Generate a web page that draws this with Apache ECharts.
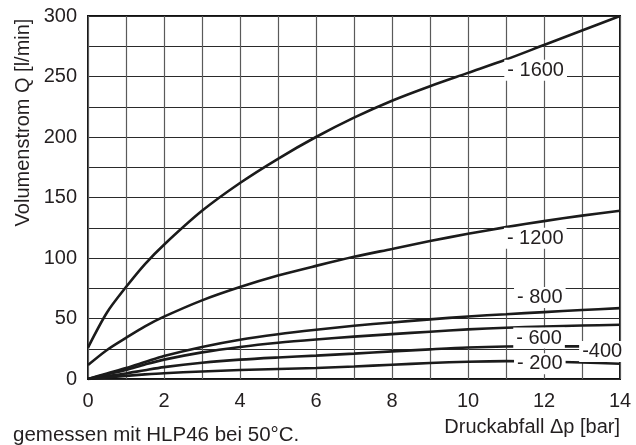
<!DOCTYPE html>
<html>
<head>
<meta charset="utf-8">
<script src="https://cdn.jsdelivr.net/npm/echarts@6/dist/echarts.min.js"></script>
<style>html,body{margin:0;padding:0;background:#fff}#c{width:636px;height:445px}</style>
</head>
<body>
<div id="c"></div>
<script>
// Druckabfall Δp [bar]
var xValues = [0, 0.5, 1, 1.5, 2, 3, 4, 5, 6, 7, 8, 9, 10, 11, 12, 13, 14];
// Volumenstrom Q [l/min] per curve
var q1600 = [26, 55, 76, 95, 111, 139, 162, 182, 200, 216, 230, 242, 253, 264, 276, 288, 300];
var q1200 = [11.5, 24, 34, 43.5, 51.5, 65, 76, 85.5, 93.5, 101, 107.5, 114, 120, 125.5, 130.5, 135, 139];
var q800  = [0, 4.6, 9, 14, 19, 26.5, 32.5, 37, 40.7, 44, 46.7, 49.3, 51.7, 53.5, 55.3, 57, 58.6];
var q600  = [0, 3.8, 7.5, 12, 16, 22, 26.5, 30, 32.7, 35, 37.1, 39.1, 41, 42.3, 43.4, 44.2, 44.8];
var q400  = [0, 2.3, 4.6, 7.3, 9.8, 13.4, 16, 17.8, 19.3, 21, 22.8, 24.5, 26, 26.8, 27, 27, 26.5];
var q200  = [0, 1.3, 2.6, 3.8, 4.8, 6.2, 7.4, 8.3, 9.1, 10.3, 11.8, 13.2, 14.3, 14.8, 14.5, 13.6, 12.6];
// curve labels
var labelText = ['- 1600', '- 1200', '- 800', '- 600', '-400', '- 200'];
var labelX = [11.78, 11.77, 11.89, 11.87, 13.53, 11.89];
var labelY = [255.2, 116.3, 67.3, 33.8, 22.8, 12.6];
var xTicks = [0, 2, 4, 6, 8, 10, 12, 14];
var yTicks = [0, 50, 100, 150, 200, 250, 300];

var FONT = '"Liberation Sans", Arial, Helvetica, sans-serif';
var TXT = '#231f20';

function pairs(ys) { return xValues.map(function (x, i) { return [x, ys[i]]; }); }
function curve(name, ys) {
  return {
    name: name, type: 'line', data: pairs(ys), smooth: 0.3, symbol: 'none', z: 2,
    lineStyle: { color: '#1b1b1b', width: 2.6 }, silent: true
  };
}

var chart = echarts.init(document.getElementById('c'), null, { renderer: 'canvas' });
chart.setOption({
  animation: false,
  backgroundColor: '#fff',
  grid: { left: 88, right: 16, top: 16, bottom: 66, show: true, borderColor: '#111', borderWidth: 2, backgroundColor: 'transparent' },
  xAxis: {
    type: 'value', min: 0, max: 14, interval: 1,
    axisLine: { show: false }, axisTick: { show: false },
    axisLabel: {
      margin: 12, color: TXT, fontFamily: FONT, fontSize: 20,
      formatter: function (v) { return xTicks.indexOf(v) >= 0 ? String(v) : ''; }
    },
    splitLine: { show: true, lineStyle: { color: '#5a5a5a', width: 1.2 } }
  },
  yAxis: {
    type: 'value', min: 0, max: 300, interval: 25,
    axisLine: { show: false }, axisTick: { show: false },
    axisLabel: {
      margin: 11, color: TXT, fontFamily: FONT, fontSize: 20,
      formatter: function (v) { return yTicks.indexOf(v) >= 0 ? String(v) : ''; }
    },
    splitLine: { show: true, lineStyle: { color: '#2a2a2a', width: 1 } }
  },
  series: [
    curve('1600', q1600), curve('1200', q1200), curve('800', q800),
    curve('600', q600), curve('400', q400), curve('200', q200),
    {
      type: 'scatter', z: 5, symbolSize: 0, silent: true,
      itemStyle: { opacity: 1, color: '#fff' },
      emphasis: { disabled: true },
      data: labelText.map(function (t, i) { return { value: [labelX[i], labelY[i]], name: t }; }),
      label: {
        show: true, position: 'inside', formatter: '{b}', opacity: 1,
        color: TXT, fontFamily: FONT, fontSize: 20,
        backgroundColor: '#ffffff', padding: [0, 3, 0, 3], lineHeight: 21
      }
    }
  ],
  graphic: [
    { type: 'text', x: 23, y: 122.5, rotation: Math.PI / 2,
      style: { text: 'Volumenstrom Q [l/min]', font: '20px ' + FONT, fill: TXT, align: 'center', verticalAlign: 'middle' } },
    { type: 'text', x: 620, y: 427,
      style: { text: 'Druckabfall \u0394p [bar]', font: '20px ' + FONT, fill: TXT, align: 'right', verticalAlign: 'middle' } },
    { type: 'text', x: 13, y: 435,
      style: { text: 'gemessen mit HLP46 bei 50\u00B0C.', font: '20.5px ' + FONT, fill: TXT, align: 'left', verticalAlign: 'middle' } }
  ]
});
</script>
</body>
</html>
